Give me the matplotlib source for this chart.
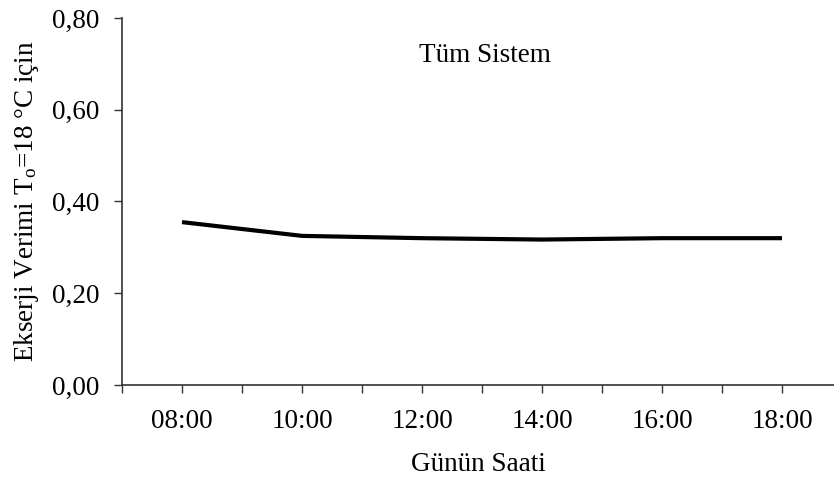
import matplotlib
matplotlib.use('Agg')
import matplotlib.pyplot as plt
import matplotlib.ticker as ticker

# saat ve ekserji verimi
hours = [8, 10, 12, 14, 16, 18]
hour_labels = ['08:00', '10:00', '12:00', '14:00', '16:00', '18:00']
efficiency = [0.355, 0.325, 0.320, 0.317, 0.320, 0.320]
y_ticks = [0.0, 0.2, 0.4, 0.6, 0.8]

plt.rcParams['font.family'] = ['Liberation Serif', 'DejaVu Serif']
plt.rcParams['mathtext.fontset'] = 'custom'
plt.rcParams['mathtext.rm'] = 'Liberation Serif'
plt.rcParams['mathtext.it'] = 'Liberation Serif'

fs = 19.5

fig = plt.figure(figsize=(8.34, 4.8), dpi=100)
ax = fig.add_axes([0.1463, 0.198, 0.8537, 0.7645])

ax.plot(hours, efficiency, color='black', linewidth=3.0, solid_capstyle='butt')

ax.set_xlim(7, 7 + 712 / 60)
ax.set_ylim(0, 0.8)

ax.set_xticks(hours)
ax.set_xticklabels(hour_labels)
ax.xaxis.set_minor_locator(ticker.FixedLocator(list(range(7, 19, 2))))
ax.set_yticks(y_ticks)
ax.set_yticklabels([f'{v:.2f}'.replace('.', ',') for v in y_ticks])

ax.tick_params(axis='both', which='both', direction='out', length=6, width=1,
               color='#333333', labelsize=fs)
ax.tick_params(axis='x', which='major', pad=11)
ax.tick_params(axis='y', pad=10)

for side in ['top', 'right']:
    ax.spines[side].set_visible(False)
for side in ['left', 'bottom']:
    ax.spines[side].set_linewidth(1.2)
    ax.spines[side].set_color('#333333')

ax.set_xlabel('Günün Saati', fontsize=fs, labelpad=13)
ax.set_ylabel('Ekserji Verimi T$_\\mathrm{o}$=18 °C için', fontsize=fs, labelpad=8)

# konum piksel olarak (üstten)
fig.text(485 / 834, 1 - 55 / 480, 'Tüm Sistem', fontsize=fs,
         ha='center', va='center')

fig.savefig('out.png', dpi=100)
